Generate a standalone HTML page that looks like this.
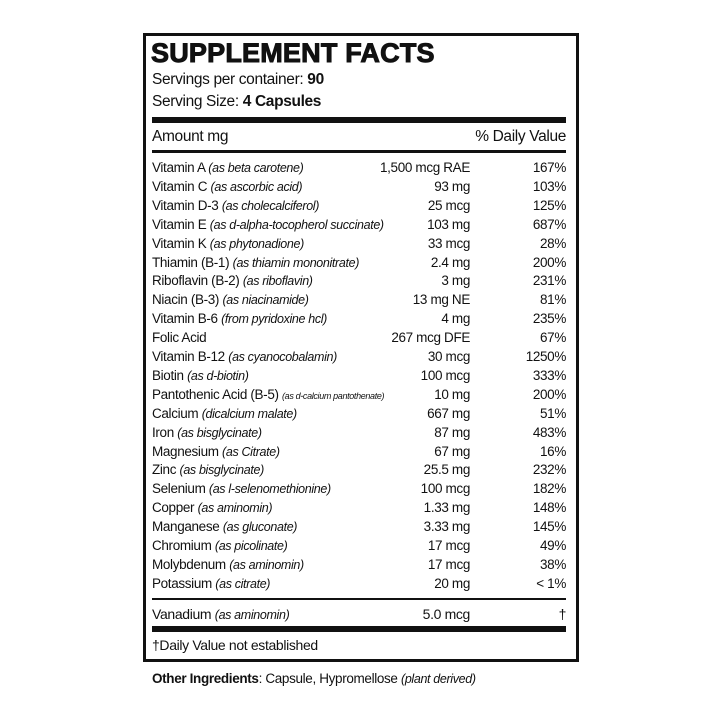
<!DOCTYPE html>
<html><head><style>
body{margin:0;width:720px;height:720px;background:#fff;font-family:"Liberation Sans",Arial,sans-serif;color:#111;position:relative;overflow:hidden}
.box{position:absolute;left:143px;top:33px;width:430px;height:623px;border:3px solid #111}
.t{position:absolute;white-space:nowrap;font-size:14px;letter-spacing:-0.35px;line-height:1}
.r{position:absolute;left:152px;width:414px;height:18px;font-size:13.5px;letter-spacing:-0.35px;white-space:nowrap}
.r span{position:absolute;top:0}
.r .n{left:0}.r .a{right:96px}.r .p{right:0}
i{font-size:12.5px}
.bar{position:absolute;left:152px;width:414px;background:#111}
</style></head><body>
<div class="box"></div>
<div class="t" style="left:151px;top:40px;font-size:27px;font-weight:bold;letter-spacing:0.2px;-webkit-text-stroke:1px #111">SUPPLEMENT FACTS</div>
<div class="t" style="left:152px;top:72px;font-size:15.5px">Servings per container: <b>90</b></div>
<div class="t" style="left:152px;top:94px;font-size:15.5px">Serving Size: <b>4 Capsules</b></div>
<div class="bar" style="top:117px;height:6px"></div>
<div class="t" style="left:152px;top:129px;font-size:15.5px">Amount mg</div>
<div class="t" style="right:154px;top:129px;font-size:15.5px">% Daily Value</div>
<div class="bar" style="top:150px;height:3px"></div>
<div id="rows"></div>
<div class="bar" style="top:598px;height:1.5px"></div>
<div class="bar" style="top:626px;height:6px"></div>
<div class="t" style="left:152px;top:638px;font-size:14px">†Daily Value not established</div>
<div class="t" style="left:152px;top:672px;font-size:13.5px"><b>Other Ingredients</b>: Capsule, Hypromellose <i>(plant derived)</i></div>
<script>
var d=[["Vitamin A <i>(as beta carotene)</i>","1,500 mcg RAE","167%"],
["Vitamin C <i>(as ascorbic acid)</i>","93 mg","103%"],
["Vitamin D-3 <i>(as cholecalciferol)</i>","25 mcg","125%"],
["Vitamin E <i>(as d-alpha-tocopherol succinate)</i>","103 mg","687%"],
["Vitamin K <i>(as phytonadione)</i>","33 mcg","28%"],
["Thiamin (B-1) <i>(as thiamin mononitrate)</i>","2.4 mg","200%"],
["Riboflavin (B-2) <i>(as riboflavin)</i>","3 mg","231%"],
["Niacin (B-3) <i>(as niacinamide)</i>","13 mg NE","81%"],
["Vitamin B-6 <i>(from pyridoxine hcl)</i>","4 mg","235%"],
["Folic Acid","267 mcg DFE","67%"],
["Vitamin B-12 <i>(as cyanocobalamin)</i>","30 mcg","1250%"],
["Biotin <i>(as d-biotin)</i>","100 mcg","333%"],
["Pantothenic Acid (B-5) <i style='font-size:9px'>(as d-calcium pantothenate)</i>","10 mg","200%"],
["Calcium <i>(dicalcium malate)</i>","667 mg","51%"],
["Iron <i>(as bisglycinate)</i>","87 mg","483%"],
["Magnesium <i>(as Citrate)</i>","67 mg","16%"],
["Zinc <i>(as bisglycinate)</i>","25.5 mg","232%"],
["Selenium <i>(as l-selenomethionine)</i>","100 mcg","182%"],
["Copper <i>(as aminomin)</i>","1.33 mg","148%"],
["Manganese <i>(as gluconate)</i>","3.33 mg","145%"],
["Chromium <i>(as picolinate)</i>","17 mcg","49%"],
["Molybdenum <i>(as aminomin)</i>","17 mcg","38%"],
["Potassium <i>(as citrate)</i>","20 mg","&lt; 1%"]];
var h="";
d.forEach(function(r,k){h+='<div class="r" style="top:'+(160+k*18.9)+'px"><span class="n">'+r[0]+'</span><span class="a">'+r[1]+'</span><span class="p">'+r[2]+'</span></div>';});
h+='<div class="r" style="top:606px;font-size:14px"><span class="n">Vanadium <i>(as aminomin)</i></span><span class="a">5.0 mcg</span><span class="p">†</span></div>';
document.getElementById("rows").innerHTML=h;
</script>
</body></html>
